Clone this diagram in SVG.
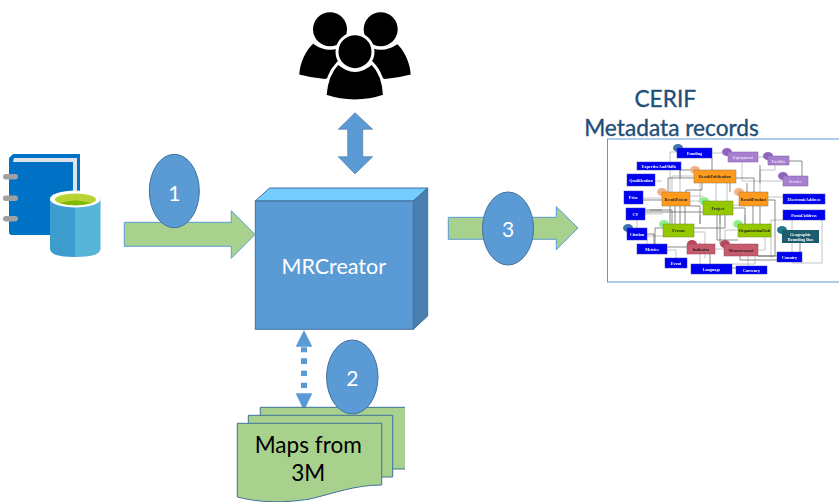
<svg xmlns="http://www.w3.org/2000/svg" width="839" height="502" viewBox="0 0 839 502">
<defs>
<style>
.lato{font-family:"Lato","Liberation Sans",sans-serif}
.num{font-family:"Lato","Liberation Sans",sans-serif;font-size:21px;fill:#fff;text-anchor:middle}
.ell{fill:#5b9bd5;stroke:#41719c;stroke-width:1}
.flow{fill:#a9d18e;stroke:#5b9bd5;stroke-width:1}
.doc{fill:#a9d18e;stroke:#41719c;stroke-width:1}
.t{font-family:"Liberation Serif",serif;font-size:4.2px;font-weight:bold;text-anchor:middle}
.w{fill:#fff}.k{fill:#222}.lp{fill:#e6d8f2}
.b{fill:#0000f0;stroke:#3a3ac0;stroke-width:.5}
.o{fill:#ff9a1f;stroke:#8c7a50;stroke-width:.5}
.g{fill:#96c800;stroke:#6f8a20;stroke-width:.5}
.p{fill:#a77fcf;stroke:#7f62a5;stroke-width:.5}
.r{fill:#c85a6e;stroke:#904a58;stroke-width:.5}
.dk{stroke:#5a5a5a;stroke-width:.7;fill:none}
.lt{stroke:#b5b5b5;stroke-width:.8;fill:none}
</style>
<filter id="soft" x="-5%" y="-5%" width="110%" height="110%"><feGaussianBlur stdDeviation="0.4"/></filter>
</defs>
<rect width="839" height="502" fill="#fff"/>

<g id="source-icon">
<path d="M13,154H80V235H12Q9,235 9,232V158Z" fill="#0072c6"/>
<path d="M14,158H77V200H73V162H13Z" fill="#dfe3e8"/>
<rect x="3" y="174" width="15" height="5.5" rx="2.7" fill="#a0a1a2"/>
<rect x="3" y="195.500" width="15" height="5.500" rx="2.700" fill="#a0a1a2"/>
<rect x="3" y="216" width="15" height="5.500" rx="2.700" fill="#a0a1a2"/>
<path d="M50,199V249Q50,257 75,257V199Z" fill="#3d9cce"/>
<path d="M100.500,199V249Q100.500,257 75,257V199Z" fill="#59b4d9"/>
<ellipse cx="75.200" cy="199" rx="25.300" ry="8.500" fill="#fff"/>
<ellipse cx="75.500" cy="199.500" rx="20.500" ry="6" fill="#b8d432"/>
<path d="M60,203Q75.500,198 91,203Q75.500,207.500 60,203Z" fill="#7fba00"/>
</g>

<g id="users-icon">
<path d="M299.300,74.500C300,62 306,50 314,43Q330,52 346,46L350,70L325,79Q312,78 299.300,74.500Z" fill="#000"/>
<path d="M410.700,74.500C410,62 404,50 396,43Q380,52 364,46L360,70L385,79Q398,78 410.700,74.500Z" fill="#000"/>
<circle cx="330" cy="29.300" r="17" fill="#000"/>
<path d="M314,43Q330,54 346,43" fill="none" stroke="#fff" stroke-width="2.500"/>
<circle cx="380.700" cy="29.300" r="17" fill="#000"/>
<path d="M365,43Q381,54 397,43" fill="none" stroke="#fff" stroke-width="2.500"/>
<path d="M325,96C326,82 330,71 338,63Q355,78 372,63C380,71 384,82 384.500,96Q355,106 325,96Z" fill="#000" stroke="#fff" stroke-width="3"/>
<circle cx="355" cy="51.700" r="18" fill="#000" stroke="#fff" stroke-width="3"/>
</g>

<g id="mrcreator">
<path d="M255.300,201L269.500,188H427.700L413.300,201Z" fill="#75ccff" stroke="#41719c"/>
<path d="M413.300,201L427.700,188V316L413.300,329.300Z" fill="#4a7eb0" stroke="#41719c"/>
<rect x="255.300" y="201" width="158" height="128.300" fill="#5b9bd5" stroke="#41719c"/>
<text x="333.700" y="274" class="lato" font-size="21.500" fill="#fff" text-anchor="middle">MRCreator</text>
</g>

<g id="connectors">
<path id="flow-1" class="flow" d="M124.300,222.300H231.300V210.700L255,234.500L231.300,258.300V246.300H124.300Z"/>
<path id="flow-3" class="flow" d="M448.300,217.300H556.300V206.700L578,228L556.300,249.700V239.300H448.300Z"/>
<path id="users-link" d="M355,112.700L372.700,129.300H362.700V156.700H372.700L355,174L338.300,156.700H347.700V129.300H338.300Z" fill="#5b9bd5" stroke="#41719c" stroke-width=".6"/>
<g id="maps-link" fill="#5b9bd5">
<path d="M304,330L312.300,346.700H295.700Z"/>
<path d="M304,410.700L312.300,393.300H295.700Z"/>
<rect x="301" y="347.300" width="6" height="5"/>
<rect x="301" y="358.300" width="6" height="5.700"/>
<rect x="301" y="370.700" width="6" height="5.300"/>
<rect x="301" y="382.700" width="6" height="5.300"/>
</g>
</g>

<g id="maps-from-3m">
<path d="M260.300,407.300H405V469H260.300Z" fill="#a9d18e"/>
<path class="doc" d="M405,407.300H260.300V420M392.700,469H405" fill="none"/>
<path class="doc" d="M248.300,415.300H392.700V477H248.300Z"/>
<path class="doc" d="M237.300,423.300H381.700V485C355,485 335,493 310,499C285,503 260,503 237.300,497Z"/>
<text x="308.300" y="452.700" class="lato" font-size="22.600" fill="#000" text-anchor="middle">Maps from</text>
<text x="308.300" y="480.700" class="lato" font-size="22.600" fill="#000" text-anchor="middle">3M</text>
</g>

<g id="step-1"><ellipse class="ell" cx="174.300" cy="191" rx="25" ry="36.700"/><text x="174.300" y="200.500" class="num">1</text></g>
<g id="step-2"><ellipse class="ell" cx="352.300" cy="377" rx="25.700" ry="37"/><text x="352.300" y="385.700" class="num">2</text></g>
<g id="step-3"><ellipse class="ell" cx="508" cy="228.500" rx="25.500" ry="36.500"/><text x="508" y="237" class="num">3</text></g>

<g id="cerif-title" class="lato" font-size="22.700" fill="#1f4e79" stroke="#1f4e79" stroke-width=".35" text-anchor="middle">
<text x="665.300" y="107.300">CERIF</text>
<text x="671.500" y="135.700">Metadata records</text>
</g>

<g id="cerif-model">
<rect x="607.500" y="139" width="233" height="143" fill="#fff" stroke="#5b9bd5"/>
<g filter="url(#soft)">
<g id="model-links">
<path class="lt" d="M677,152H670V192M712,153H728M742,162V181H783M758,157H768V162M775,165V170H760V192M694,176H672V192M680,170V192M700,183V201M716,183V201M727,183V201M700,215V224M720,215V224M745,215V224M733,205H739M690,196H703M690,201H703M643,198H662M655,181H662M645,214H663M637,220V228M647,236H663M647,246V240M667,250H676V258M694,232H705V258M715,249H724M758,250H765V237M783,220H771V258M792,220V263H822V220M768,197H783M738,230H725V244M732,264H755V256M748,266V256M700,254V264"/>
<path class="dk" d="M694,178H668V192M736,178H754V192M712,158V170M702,170V190H686V192M789,161H802V176M690,206H700V224M670,206V224M675,206V224M680,206V224M685,206V224M645,212H703M645,210H662M643,200H662M753,206V224M760,206V224M717,215V240H738M768,200H775V256H758M747,183V192M777,256H758M777,260H740V256M800,243V252M694,228H725V201M663,228H655V244M647,234H654V244M667,247H687M700,243V254M720,215V244M710,254V268H736M690,170H680V178M760,183V165M733,208H745V224M730,183V192M672,224V210H650"/>
</g>
<g id="model-nodes">
<ellipse cx="678" cy="148" rx="5" ry="4" fill="#3f74ac"/>
<ellipse cx="727" cy="152" rx="5" ry="4" fill="#9065bd"/>
<ellipse cx="768" cy="156" rx="5" ry="4" fill="#9065bd"/>
<ellipse cx="783" cy="176" rx="5" ry="4" fill="#9065bd"/>
<ellipse cx="695" cy="170" rx="5" ry="4" fill="#f4b183"/>
<ellipse cx="662" cy="192" rx="5" ry="4" fill="#f4b183"/>
<ellipse cx="739" cy="192" rx="5" ry="4" fill="#f4b183"/>
<ellipse cx="704" cy="201" rx="5" ry="4" fill="#90ee90"/>
<ellipse cx="664" cy="224" rx="5" ry="4" fill="#90ee90"/>
<ellipse cx="738" cy="224" rx="5" ry="4" fill="#90ee90"/>
<ellipse cx="628" cy="228" rx="5" ry="4" fill="#3f74ac"/>
<ellipse cx="782" cy="230" rx="5" ry="4" fill="#22788c"/>
<ellipse cx="692" cy="244" rx="5" ry="4" fill="#b8485c"/>
<ellipse cx="725" cy="244" rx="5" ry="4" fill="#b8485c"/>
<g id="n-funding"><rect class="b" x="677" y="148" width="35" height="10"/><text class="t w" x="694.500" y="155">Funding</text></g>
<g id="n-equipment"><rect class="p" x="728" y="152" width="30" height="10"/><text class="t lp" x="743" y="159">Equipment</text></g>
<g id="n-facility"><rect class="p" x="768" y="156" width="21" height="9"/><text class="t lp" x="778.500" y="162.500">Facility</text></g>
<g id="n-service"><rect class="p" x="783" y="176" width="25" height="10"/><text class="t lp" x="795.500" y="183">Service</text></g>
<g id="n-expertise"><rect class="b" x="637" y="162" width="44" height="8"/><text class="t w" x="659" y="168">ExpertiseAndSkills</text></g>
<g id="n-qualification"><rect class="b" x="627" y="174" width="28" height="12"/><text class="t w" x="641" y="181.500">Qualification</text></g>
<g id="n-publication"><rect class="o" x="694" y="170" width="42" height="13"/><text class="t k" x="715" y="178">ResultPublication</text></g>
<g id="n-patent"><rect class="o" x="662" y="192" width="28" height="14"/><text class="t k" x="676" y="200.500">ResultPatent</text></g>
<g id="n-product"><rect class="o" x="739" y="192" width="29" height="14"/><text class="t k" x="753.500" y="200.500">ResultProduct</text></g>
<g id="n-electronic"><rect class="b" x="783" y="194" width="42" height="10"/><text class="t w" x="804" y="201">ElectronicAddress</text></g>
<g id="n-prize"><rect class="b" x="624" y="191" width="19" height="13"/><text class="t w" x="633.500" y="199">Prize</text></g>
<g id="n-project"><rect class="g" x="703" y="201" width="30" height="14"/><text class="t k" x="718" y="209.500">Project</text></g>
<g id="n-cv"><rect class="b" x="626" y="208" width="19" height="12"/><text class="t w" x="635.500" y="215.500">CV</text></g>
<g id="n-postal"><rect class="b" x="783" y="210" width="42" height="10"/><text class="t w" x="804" y="217">PostalAddress</text></g>
<g id="n-person"><rect class="g" x="663" y="224" width="31" height="13"/><text class="t k" x="678.500" y="232">Person</text></g>
<g id="n-orgunit"><rect class="g" x="738" y="224" width="33" height="13"/><text class="t k" x="754.500" y="232">OrganisationUnit</text></g>
<g id="n-citation"><rect class="b" x="627" y="228" width="20" height="12"/><text class="t w" x="637" y="235.500">Citation</text></g>
<g id="n-geo"><rect x="782" y="230" width="37" height="13" fill="#1d5c6c"/><text class="t w" x="800.500" y="235.500">Geographic</text><text class="t w" x="800.500" y="240.500">Bounding Box</text></g>
<g id="n-metrics"><rect class="b" x="637" y="244" width="30" height="10"/><text class="t w" x="652" y="251">Metrics</text></g>
<g id="n-indicator"><rect class="r" x="687" y="244" width="28" height="10"/><text class="t k" x="701" y="251">Indicator</text></g>
<g id="n-measurement"><rect class="r" x="724" y="244" width="34" height="12"/><text class="t k" x="741" y="251.500">Measurement</text></g>
<g id="n-country"><rect class="b" x="777" y="252" width="25" height="10"/><text class="t w" x="789.500" y="259">Country</text></g>
<g id="n-event"><rect class="b" x="665" y="258" width="22" height="10"/><text class="t w" x="676" y="265">Event</text></g>
<g id="n-language"><rect class="b" x="691" y="264" width="41" height="10"/><text class="t w" x="711.500" y="271">Language</text></g>
<g id="n-currency"><rect class="b" x="736" y="266" width="31" height="8"/><text class="t w" x="751.500" y="272">Currency</text></g>
</g>
</g>
</g>
</svg>
